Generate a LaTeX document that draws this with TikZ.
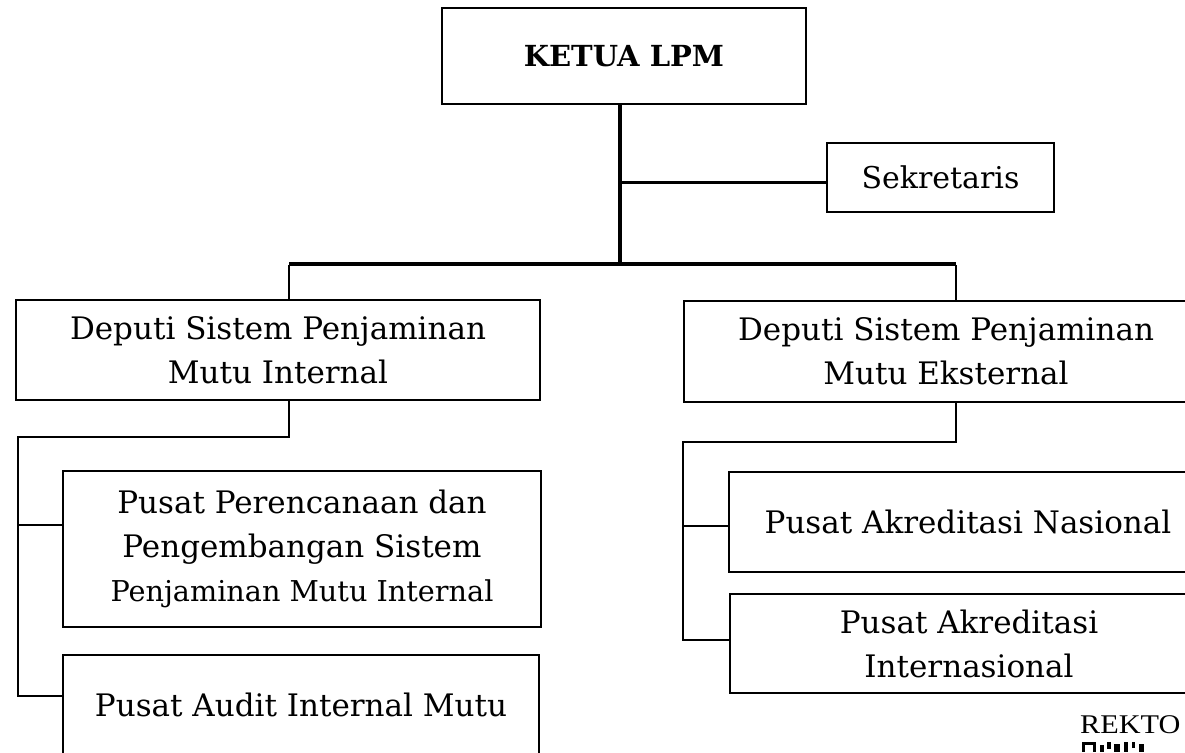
\documentclass[tikz,border=0pt]{standalone}
\usepackage{fontspec}
\setmainfont{DejaVu Serif}
\newfontfamily\rekfont{Liberation Serif}
\begin{document}
\begin{tikzpicture}[x=1pt,y=-1pt,
  box/.style={draw=black, line width=2.6pt, align=center, inner sep=0pt,
    font=\fontsize{31}{44}\selectfont},
  thin/.style={line width=2.2pt},
  mid/.style={line width=3pt},
  thick/.style={line width=4.5pt},
]
\useasboundingbox (0,0) rectangle (1185,752);
\clip (0,0) rectangle (1185,752);
\fill[white] (0,0) rectangle (1185,752);

% boxes
\node[box, minimum width=364pt, minimum height=96pt,
  font=\bfseries\fontsize{29}{34}\selectfont] (ketua) at (624,56) {KETUA LPM};
\node[box, minimum width=227pt, minimum height=69pt,
  font=\fontsize{30}{40}\selectfont] (sek) at (940.5,177.5) {Sekretaris};
\node[box, minimum width=524pt, minimum height=100pt] (dI) at (278,350)
  {Deputi Sistem Penjaminan\\Mutu Internal};
\node[box, minimum width=524pt, minimum height=101pt] (dE) at (946,351.5)
  {Deputi Sistem Penjaminan\\Mutu Eksternal};
\node[box, minimum width=478pt, minimum height=156pt] (pP) at (302,549)
  {Pusat Perencanaan dan\\Pengembangan Sistem\\{\fontsize{28.7}{43}\selectfont Penjaminan Mutu Internal}};
\node[box, minimum width=476pt, minimum height=100pt] (pA) at (301,705)
  {Pusat Audit Internal Mutu};
\node[box, minimum width=478pt, minimum height=100pt] (pN) at (968,522)
  {Pusat Akreditasi Nasional};
\node[box, minimum width=478pt, minimum height=99pt] (pI) at (969,643.5)
  {Pusat Akreditasi\\Internasional};

% junction coordinates
\coordinate (j) at (620,264);
\coordinate (hl) at (289,264);
\coordinate (hr) at (956,264);
\coordinate (sj) at (620,182);
\coordinate (lbend) at (289,437);
\coordinate (lrail) at (18,437);
\coordinate (lb1) at (18,525);
\coordinate (lb2) at (18,696);
\coordinate (rbend) at (956,442);
\coordinate (rrail) at (683,442);
\coordinate (rb1) at (683,526);
\coordinate (rb2) at (683,640);

% top trunk
\draw[thick] (ketua.south -| j) -- ([yshift=2pt]j);
\draw[mid] (sj) -- (sj -| sek.west);
\draw[thick] (hl) -- (hr);
\draw[thin] ([yshift=-1pt]hl) -- (hl |- dI.north);
\draw[thin] ([yshift=-1pt]hr) -- (hr |- dE.north);

% left subtree
\draw[thin] (hl |- dI.south) -- (lbend) -- (lrail) -- (lb2) -- (lb2 -| pA.west);
\draw[thin] (lb1) -- (lb1 -| pP.west);

% right subtree
\draw[thin] (hr |- dE.south) -- (rbend) -- (rrail) -- (rb2) -- (rb2 -| pI.west);
\draw[thin] (rb1) -- (rb1 -| pN.west);

% footer fragment
\node[anchor=base west, inner sep=0pt, font=\rekfont\fontsize{27}{30}\selectfont] (rek) at (1080,733) {\scalebox{1.12}[1]{REKTO}};
\fill (1082,742) rectangle (1096,752);
\fill[white] (1085,745) rectangle (1093,752);
\fill (1100,745) rectangle (1104,752);
\fill (1107,742) rectangle (1111,749);
\fill (1114,744) rectangle (1120,752);
\fill (1124,742) rectangle (1128,752);
\fill (1132,742) rectangle (1135,748);
\fill (1139,744) rectangle (1144,752);
\end{tikzpicture}
\end{document}
